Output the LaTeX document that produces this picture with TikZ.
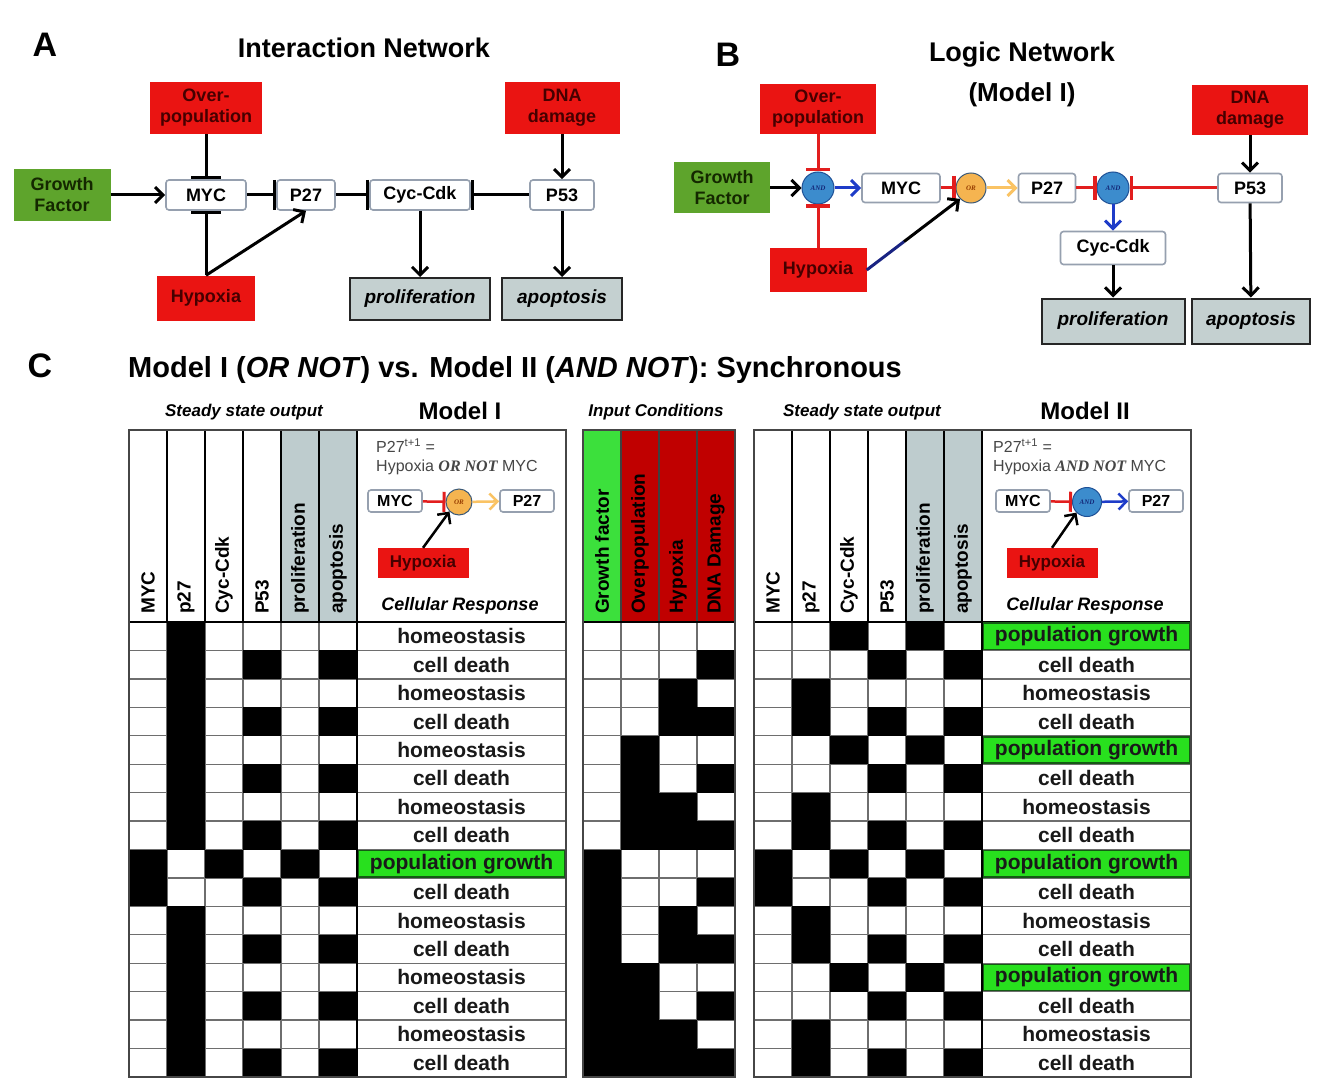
\documentclass[tikz,border=0pt]{standalone}
\usepackage{fontspec}
\setmainfont{Liberation Sans}
\newfontfamily\tms{Liberation Serif}
\usetikzlibrary{arrows.meta,calc}
\newcommand\fs[2]{\fontsize{#1}{#2}\selectfont}
\definecolor{boxred}{RGB}{234,20,18}
\definecolor{redtxt}{RGB}{70,0,0}
\definecolor{gfgreen}{RGB}{94,164,44}
\definecolor{gftxt}{RGB}{20,40,0}
\definecolor{wborder}{RGB}{150,160,175}
\definecolor{outgray}{RGB}{196,208,208}
\definecolor{hdrgray}{RGB}{190,204,206}
\definecolor{andblue}{RGB}{60,140,205}
\definecolor{andedge}{RGB}{30,80,150}
\definecolor{andtxt}{RGB}{20,40,120}
\definecolor{orfill}{RGB}{245,180,80}
\definecolor{oredge}{RGB}{60,90,120}
\definecolor{ortxt}{RGB}{150,60,0}
\definecolor{inhred}{RGB}{226,30,30}
\definecolor{actblue}{RGB}{30,60,200}
\definecolor{navyln}{RGB}{25,35,130}
\definecolor{actorange}{RGB}{250,195,100}
\definecolor{gridc}{RGB}{110,110,110}
\definecolor{framec}{RGB}{70,70,70}
\definecolor{ingreen}{RGB}{60,224,60}
\definecolor{indred}{RGB}{192,0,0}
\definecolor{pggreen}{RGB}{40,224,30}
\definecolor{pgedge}{RGB}{20,90,20}
\definecolor{txtgray}{RGB}{70,70,70}
\tikzset{
  panlab/.style={inner sep=0, font=\fs{34}{36}\bfseries},
  ttl/.style={inner sep=0, font=\fs{27}{30}\bfseries},
  rbox/.style={fill=boxred, inner sep=0, align=center, text=redtxt, font=\fs{18}{21}\bfseries},
  gbox/.style={fill=gfgreen, inner sep=0, align=center, text=gftxt, font=\fs{18}{21}\bfseries},
  wbox/.style={draw=wborder, fill=white, rounded corners=3pt, line width=1.6pt, inner sep=0, font=\fs{18}{21}\bfseries},
  obox/.style={draw=black!85, fill=outgray, line width=2pt, inner sep=0, font=\fs{19}{22}\bfseries\itshape},
  act/.style={line width=3pt, -{Straight Barb[length=8pt,width=16pt]}},
  actb/.style={act, draw=actblue},
  acto/.style={act, draw=actorange},
  inh/.style={line width=3pt, -{Bar[width=30pt,line width=3.5pt]}},
  inhr/.style={line width=3pt, draw=inhred, -{Bar[width=24pt,line width=3.5pt]}},
  gate/.style={circle, inner sep=0, minimum size=32pt, line width=1pt, font=\fs{7}{7}\tms\itshape\bfseries},
  andg/.style={gate, fill=andblue, draw=andedge, text=andtxt},
  org/.style={gate, fill=orfill, draw=oredge, text=ortxt, minimum size=30pt},
  hdr/.style={inner sep=0, font=\fs{17}{19}\bfseries\itshape},
  mdl/.style={inner sep=0, font=\fs{24}{26}\bfseries},
  rot/.style={rotate=90, anchor=west, inner sep=0, font=\fs{19}{20}\bfseries},
  resptxt/.style={inner sep=0, font=\fs{21}{23}\bfseries, text=black!90},
  eqtxt/.style={anchor=west, inner sep=0, font=\fs{16}{18}, text=txtgray},
  mbox/.style={wbox, minimum width=54pt, minimum height=22pt, font=\fs{16}{18}\bfseries},
}
\newcommand\ssframe[1]{%
  \fill[hdrgray] ({#1+152},430) rectangle ({#1+228},622);
  \foreach \i in {1,...,15} \draw[gridc, line width=1.3pt] (#1,{622+28.4375*\i}) -- ({#1+437},{622+28.4375*\i});
  \foreach \k in {1,...,5} \draw[gridc, line width=1.3pt] ({#1+38*\k},622) -- ({#1+38*\k},1077);
}
\newcommand\ssfinish[1]{%
  \foreach \k in {1,...,6} \draw[black, line width=2pt] ({#1+38*\k},430) -- ({#1+38*\k},622);
  \draw[black, line width=2pt] (#1,622) -- ({#1+437},622);
  \draw[black, line width=1.8pt] ({#1+228},622) -- ({#1+228},1077);
}
\newcommand\ssrow[3]{\foreach \v [count=\k] in {#3} {\ifnum\v=1 \fill[black] ({#1+38*(\k-1)},{622+28.4375*(#2-1)}) rectangle ++(38,28.4375);\fi}}
\newcommand\resp[3]{\node[resptxt] at ({#1+332.5},{622+28.4375*(#2-0.5)}) {#3};}
\newcommand\respg[2]{\filldraw[fill=pggreen, draw=pgedge, line width=1.5pt] ({#1+229.5},{622+28.4375*(#2-1)+1}) rectangle ({#1+436},{622+28.4375*#2-1});
  \node[resptxt] at ({#1+332.5},{622+28.4375*(#2-0.5)}) {population growth};}
\begin{document}
\begin{tikzpicture}[x=1pt,y=-1pt]
\useasboundingbox (0,0) rectangle (1330,1086);
\fill[white] (0,0) rectangle (1330,1086);
%================ Panel A
\node[panlab] (labA) at (45,45) {A};
\node[ttl] (tA) at (364,48) {Interaction Network};
\node[rbox, minimum width=112pt, minimum height=52pt] (ovA) at (206,108) {Over-\\population};
\node[rbox, minimum width=115pt, minimum height=52pt] (dnaA) at (562,108) {DNA\\damage};
\node[gbox, minimum width=97pt, minimum height=52pt] (gfA) at (62,195) {Growth\\Factor};
\node[wbox, minimum width=80pt, minimum height=30pt] (mycA) at (206,195) {MYC};
\node[wbox, minimum width=58pt, minimum height=30pt] (p27A) at (306,195) {P27};
\node[wbox, minimum width=100pt, minimum height=30pt] (cycA) at (420,195) {Cyc-Cdk};
\node[wbox, minimum width=64pt, minimum height=30pt] (p53A) at (562,195) {P53};
\node[rbox, minimum width=98pt, minimum height=45pt] (hypA) at (206,298) {Hypoxia};
\node[obox, minimum width=140pt, minimum height=42pt] (proA) at (420,299) {proliferation};
\node[obox, minimum width=120pt, minimum height=42pt] (apoA) at (562,299) {apoptosis};
\draw[act] (gfA) -- (mycA);
\draw[inh] (ovA) -- (mycA);
\draw[inh] (hypA) -- (mycA);
\draw[act] (hypA.north) -- (p27A.south);
\draw[inh] (mycA) -- (p27A);
\draw[inh] (p27A) -- (cycA);
\draw[inh] (p53A) -- (cycA);
\draw[act] (dnaA) -- (p53A);
\draw[act] (cycA) -- (proA);
\draw[act] (p53A) -- (apoA);
%================ Panel B
\node[panlab] (labB) at (728,55) {B};
\node[ttl] (tB) at (1022,55) {Logic Network};
\node[ttl, font=\fs{26}{28}\bfseries] (tB2) at (1022,95) {(Model I)};
\node[rbox, minimum width=116pt, minimum height=50pt] (ovB) at (818,109) {Over-\\population};
\node[rbox, minimum width=116pt, minimum height=50pt] (dnaB) at (1250,110) {DNA\\damage};
\node[gbox, minimum width=96pt, minimum height=51pt] (gfB) at (722,188) {Growth\\Factor};
\node[andg] (and1) at (818,188) {AND};
\node[wbox, minimum width=78pt, minimum height=29pt] (mycB) at (901,188) {MYC};
\node[org] (orG) at (971,188) {OR};
\node[wbox, minimum width=57pt, minimum height=29pt] (p27B) at (1047,188) {P27};
\node[andg] (and2) at (1113,188) {AND};
\node[wbox, minimum width=64pt, minimum height=29pt] (p53B) at (1250,188) {P53};
\node[rbox, minimum width=97pt, minimum height=44pt] (hypB) at (818,270) {Hypoxia};
\node[wbox, minimum width=105pt, minimum height=33pt] (cycB) at (1113,248) {Cyc-Cdk};
\node[obox, minimum width=143pt, minimum height=45pt] (proB) at (1113,321) {proliferation};
\node[obox, minimum width=118pt, minimum height=45pt] (apoB) at (1251,321) {apoptosis};
\draw[act] (gfB) -- (and1);
\draw[inhr] (ovB) -- (and1);
\draw[inhr] (hypB) -- (and1);
\draw[actb] (and1) -- (mycB);
\draw[inhr] (mycB) -- (orG);
\coordinate (hm) at ($(hypB.east)!0.4!(orG.south west)$);
\draw[navyln, line width=3pt] (hypB.east) -- (hm);
\draw[act] (hm) -- (orG.south west);
\draw[acto] (orG) -- (p27B);
\draw[inhr] (p27B) -- (and2);
\draw[inhr] (p53B) -- (and2);
\draw[actb] (and2) -- (cycB);
\draw[act] (dnaB) -- (p53B);
\draw[act] (cycB) -- (proB);
\draw[act] (p53B) -- (apoB);
%================ Panel C
\node[panlab] (labC) at (40,366) {C};
\node[anchor=west, inner sep=0, font=\fs{29}{32}\bfseries] (tC) at (128,370) {Model I (\textit{OR NOT}) vs. Model II (\textit{AND NOT}): Synchronous};
\node[hdr] (h1) at (244,412) {Steady state output};
\node[mdl] (h2) at (460,411) {Model I};
\node[hdr] (h3) at (656,412) {Input Conditions};
\node[hdr] (h4) at (862,412) {Steady state output};
\node[mdl] (h5) at (1085,411) {Model II};
% ---- Model I table
\ssframe{129}
\foreach \r in {1,3,5,7,11,13,15} {\ssrow{129}{\r}{0,1,0,0,0,0}}
\foreach \r in {2,4,6,8,12,14,16} {\ssrow{129}{\r}{0,1,0,1,0,1}}
\ssrow{129}{9}{1,0,1,0,1,0}
\ssrow{129}{10}{1,0,0,1,0,1}
\ssfinish{129}
\foreach \r in {1,3,5,7,11,13,15} {\resp{129}{\r}{homeostasis}}
\foreach \r in {2,4,6,8,10,12,14,16} {\resp{129}{\r}{cell death}}
\respg{129}{9}
\draw[framec, line width=2.2pt] (129,430) rectangle (566,1077);
\foreach \c/\t in {148/MYC,186/p27,224/Cyc-Cdk,262/P53,300/proliferation,338/apoptosis}
  \node[rot] at (\c,614) {\t};
\node[eqtxt] (e1) at (376,446) {P27\textsuperscript{t+1} =};
\node[eqtxt] (e2) at (376,467) {Hypoxia {\tms\bfseries\itshape OR NOT} MYC};
\node[mbox] (m1myc) at (395,501) {MYC};
\node[org, minimum size=26pt] (m1or) at (459,502) {OR};
\node[mbox] (m1p27) at (527,501) {P27};
\node[rbox, minimum width=91pt, minimum height=30pt, font=\fs{17}{18}\bfseries] (m1hyp) at (423,563) {Hypoxia};
\draw[inhr, line width=2.5pt, -{Bar[width=20pt,line width=3pt]}] (m1myc) -- (m1or);
\draw[acto, line width=2.5pt] (m1or) -- (m1p27);
\draw[act, line width=2.5pt] (m1hyp.north) -- (m1or.south west);
\node[inner sep=0, font=\fs{18}{20}\bfseries\itshape] (cr1) at (460,606) {Cellular Response};
% ---- Input table
\fill[ingreen] (583,430) rectangle (621,622);
\fill[indred] (621,430) rectangle (735,622);
\foreach \i in {1,...,15} \draw[gridc, line width=1.3pt] (583,{622+28.4375*\i}) -- (735,{622+28.4375*\i});
\foreach \x in {621,659,697} \draw[gridc, line width=1.3pt] (\x,622) -- (\x,1077);
\foreach \r in {0,...,15} {
  \foreach \d/\k in {8/0,4/1,2/2,1/3} {
    \pgfmathtruncatemacro\bit{mod(floor(\r/\d),2)}
    \ifnum\bit=1 \fill[black] ({583+38*\k},{622+28.4375*\r}) rectangle ++(38,28.4375);\fi
  }
}
\foreach \x in {621,659,697} \draw[black!75, line width=2pt] (\x,430) -- (\x,622);
\draw[black, line width=2pt] (583,622) -- (735,622);
\draw[framec, line width=2.2pt] (583,430) rectangle (735,1077);
\foreach \c/\t in {602/Growth factor,640/Overpopulation,678/Hypoxia,716/DNA Damage}
  \node[rot] at (\c,614) {\t};
% ---- Model II table
\ssframe{754}
\foreach \r in {1,5,13} {\ssrow{754}{\r}{0,0,1,0,1,0}}
\ssrow{754}{9}{1,0,1,0,1,0}
\foreach \r in {2,6,14} {\ssrow{754}{\r}{0,0,0,1,0,1}}
\ssrow{754}{10}{1,0,0,1,0,1}
\foreach \r in {3,7,11,15} {\ssrow{754}{\r}{0,1,0,0,0,0}}
\foreach \r in {4,8,12,16} {\ssrow{754}{\r}{0,1,0,1,0,1}}
\ssfinish{754}
\foreach \r in {3,7,11,15} {\resp{754}{\r}{homeostasis}}
\foreach \r in {2,4,6,8,10,12,14,16} {\resp{754}{\r}{cell death}}
\foreach \r in {1,5,9,13} {\respg{754}{\r}}
\draw[framec, line width=2.2pt] (754,430) rectangle (1191,1077);
\foreach \c/\t in {773/MYC,811/p27,849/Cyc-Cdk,887/P53,925/proliferation,963/apoptosis}
  \node[rot] at (\c,614) {\t};
\node[eqtxt] (f1) at (993,446) {P27\textsuperscript{t+1} =};
\node[eqtxt] (f2) at (993,467) {Hypoxia {\tms\bfseries\itshape AND NOT} MYC};
\node[mbox] (m2myc) at (1023,501) {MYC};
\node[andg, minimum size=29pt] (m2and) at (1087,502) {AND};
\node[mbox] (m2p27) at (1156,501) {P27};
\node[rbox, minimum width=91pt, minimum height=30pt, font=\fs{17}{18}\bfseries] (m2hyp) at (1052,563) {Hypoxia};
\draw[inhr, line width=2.5pt, -{Bar[width=20pt,line width=3pt]}] (m2myc) -- (m2and);
\draw[actb, line width=2.5pt] (m2and) -- (m2p27);
\draw[act, line width=2.5pt] (m2hyp.north) -- (m2and.south west);
\node[inner sep=0, font=\fs{18}{20}\bfseries\itshape] (cr2) at (1085,606) {Cellular Response};
\end{tikzpicture}
\end{document}
